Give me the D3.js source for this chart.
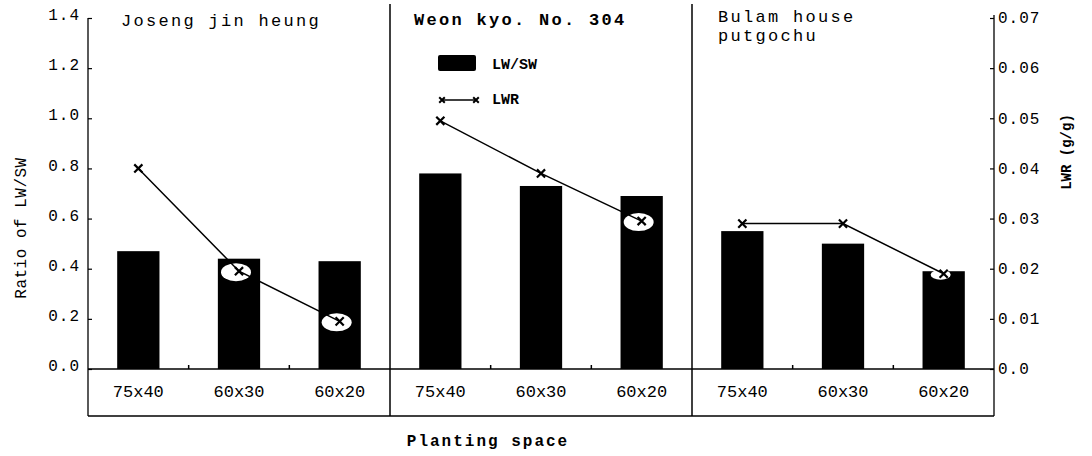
<!DOCTYPE html>
<html>
<head>
<meta charset="utf-8">
<script src="https://cdn.jsdelivr.net/npm/d3@7"></script>
<style>
  html, body { margin: 0; padding: 0; background: #fff; }
  svg { display: block; }
  text { font-family: "Liberation Mono", "DejaVu Sans Mono", monospace; fill: #000; }
</style>
</head>
<body>
<svg id="chart" width="1092" height="456"></svg>
<script>
// Cultivars (panels) and planting spaces (categories within each panel)
const cultivars = ["Joseng jin heung", "Weon kyo. No. 304", "Bulam house putgochu"];
const spacings = ["75x40", "60x30", "60x20"];

// Ratio of LW/SW (bars, left axis), one array per cultivar
const lwswJoseng = [0.47, 0.44, 0.43];
const lwswWeon = [0.78, 0.73, 0.69];
const lwswBulam = [0.55, 0.50, 0.39];

// LWR in g/g (line, right axis), one array per cultivar
const lwrJoseng = [0.040, 0.0195, 0.0095];
const lwrWeon = [0.0495, 0.039, 0.0295];
const lwrBulam = [0.029, 0.029, 0.019];

// Tick values
const leftTicks = [0, 0.2, 0.4, 0.6, 0.8, 1.0, 1.2, 1.4];
const rightTicks = [0, 0.01, 0.02, 0.03, 0.04, 0.05, 0.06, 0.07];

const lwswByCultivar = [lwswJoseng, lwswWeon, lwswBulam];
const lwrByCultivar = [lwrJoseng, lwrWeon, lwrBulam];

const rows = [];
cultivars.forEach((c, ci) => {
  spacings.forEach((s, si) => {
    rows.push({ key: ci + "|" + si, ci, si, spacing: s,
      lwsw: lwswByCultivar[ci][si], lwr: lwrByCultivar[ci][si] });
  });
});

const svg = d3.select("#chart");
const plotLeft = 88, plotRight = 994, plotTop = 18, base = 369, boxBottom = 416;

const x = d3.scaleBand().domain(rows.map(d => d.key)).range([plotLeft, plotRight]).padding(0);
const yL = d3.scaleLinear().domain([0, 1.4]).range([base, plotTop]);
const yR = d3.scaleLinear().domain([0, 0.07]).range([base, plotTop]);
const barW = x.bandwidth() * 0.42;
const cx = d => x(d.key) + x.bandwidth() / 2;

// Bars: ratio of LW/SW
svg.append("g").selectAll("rect").data(rows).join("rect")
  .attr("x", d => cx(d) - barW / 2)
  .attr("y", d => yL(d.lwsw))
  .attr("width", barW)
  .attr("height", d => base - yL(d.lwsw))
  .attr("fill", "#000");

// Left axis
const axL = svg.append("g").attr("transform", `translate(${plotLeft},0)`)
  .call(d3.axisLeft(yL).tickValues(leftTicks).tickFormat(d3.format(".1f"))
    .tickSizeInner(-4).tickSizeOuter(0).tickPadding(8));
axL.select(".domain").remove();
axL.selectAll("line").attr("stroke", "#000").attr("stroke-width", 1.2);
axL.selectAll("text").style("font-size", "16px").style("letter-spacing", "1px")
  .attr("dy", "0.1em");

// Right axis
const axR = svg.append("g").attr("transform", `translate(${plotRight},0)`)
  .call(d3.axisRight(yR).tickValues(rightTicks)
    .tickFormat(d => d === 0 ? "0.0" : d3.format(".2f")(d))
    .tickSizeInner(-4).tickSizeOuter(0).tickPadding(4));
axR.select(".domain").remove();
axR.selectAll("line").attr("stroke", "#000").attr("stroke-width", 1.2);
axR.selectAll("text").style("font-size", "16px").style("letter-spacing", "1px")
  .attr("dy", "0.3em");

// Frame: axes, panel dividers, baseline and category box
const frame = svg.append("g").attr("stroke", "#000").attr("fill", "none");
frame.append("line").attr("x1", plotLeft).attr("x2", plotLeft).attr("y1", plotTop).attr("y2", boxBottom).attr("stroke-width", 1.3);
frame.append("line").attr("x1", plotRight).attr("x2", plotRight).attr("y1", plotTop - 3).attr("y2", boxBottom).attr("stroke-width", 1.3);
[1, 2].forEach(ci => {
  const xd = x(ci + "|0");
  frame.append("line").attr("x1", xd).attr("x2", xd).attr("y1", 4).attr("y2", boxBottom).attr("stroke-width", 1.5);
});
frame.append("line").attr("x1", plotLeft).attr("x2", plotRight).attr("y1", base).attr("y2", base).attr("stroke-width", 1.3);
frame.append("line").attr("x1", plotLeft).attr("x2", plotRight).attr("y1", boxBottom).attr("y2", boxBottom).attr("stroke-width", 1.3);
// small ticks between planting spaces
rows.filter(d => d.si > 0).forEach(d => {
  frame.append("line").attr("x1", x(d.key)).attr("x2", x(d.key))
    .attr("y1", base).attr("y2", base - 4).attr("stroke-width", 1.5);
});

// Category labels in the box
svg.append("g").selectAll("text").data(rows).join("text")
  .attr("x", cx)
  .attr("y", 397)
  .attr("text-anchor", "middle")
  .style("font-size", "17px")
  .text(d => d.spacing);

// White patches where an LWR marker sits inside a bar, so it stays visible
const hidden = rows.filter(d => yR(d.lwr) > yL(d.lwsw) - 4);
svg.append("g").selectAll("ellipse").data(hidden).join("ellipse")
  .attr("cx", d => cx(d) - 3)
  .attr("cy", d => yR(d.lwr) + 1)
  .attr("rx", d => (yR(d.lwr) - yL(d.lwsw) > 8 ? 15 : 10))
  .attr("ry", d => (yR(d.lwr) - yL(d.lwsw) > 8 ? 9 : 5))
  .attr("fill", "#fff");

// LWR lines with x markers, one line per cultivar
const line = d3.line().x(cx).y(d => yR(d.lwr));
cultivars.forEach((c, ci) => {
  const pts = rows.filter(d => d.ci === ci);
  svg.append("path").datum(pts).attr("d", line)
    .attr("fill", "none").attr("stroke", "#000").attr("stroke-width", 1.5);
  svg.append("g").selectAll("path").data(pts).join("path")
    .attr("transform", d => `translate(${cx(d)},${yR(d.lwr)})`)
    .attr("d", d3.symbol(d3.symbolX, 45)())
    .attr("fill", "none").attr("stroke", "#000").attr("stroke-width", 2.2);
});

// Panel titles
const titles = svg.append("g").style("font-size", "17px").style("letter-spacing", "2.3px");
titles.append("text").attr("x", 121).attr("y", 26).text(cultivars[0]);
titles.append("text").attr("x", 414).attr("y", 25).style("font-weight", "bold").text(cultivars[1]);
const t3 = cultivars[2].split(" ");
titles.append("text").attr("x", 718).attr("y", 22).text(t3.slice(0, 2).join(" "));
titles.append("text").attr("x", 718).attr("y", 41).text(t3[2]);

// Legend
const leg = svg.append("g");
leg.append("rect").attr("x", 438).attr("y", 55).attr("width", 38).attr("height", 16).attr("rx", 2).attr("fill", "#000");
leg.append("text").attr("x", 492).attr("y", 69).style("font-size", "15px").style("font-weight", "bold").text("LW/SW");
leg.append("line").attr("x1", 442).attr("x2", 476).attr("y1", 100).attr("y2", 100).attr("stroke", "#000").attr("stroke-width", 1.5);
[442, 476].forEach(px => {
  leg.append("path").attr("transform", `translate(${px},100)`)
    .attr("d", d3.symbol(d3.symbolX, 22)())
    .attr("fill", "none").attr("stroke", "#000").attr("stroke-width", 2);
});
leg.append("text").attr("x", 492).attr("y", 104).style("font-size", "15px").style("font-weight", "bold").text("LWR");

// Axis titles
svg.append("text").attr("transform", "translate(26,228) rotate(-90)")
  .attr("text-anchor", "middle").style("font-size", "16px").style("letter-spacing", "0.5px")
  .text("Ratio of LW/SW");
svg.append("text").attr("transform", "translate(1071,152) rotate(-90)")
  .attr("text-anchor", "middle").style("font-size", "14px").style("font-weight", "bold")
  .text("LWR (g/g)");
svg.append("text").attr("x", 488).attr("y", 446).attr("text-anchor", "middle")
  .style("font-size", "16px").style("font-weight", "bold").style("letter-spacing", "2px")
  .text("Planting space");
</script>
</body>
</html>
